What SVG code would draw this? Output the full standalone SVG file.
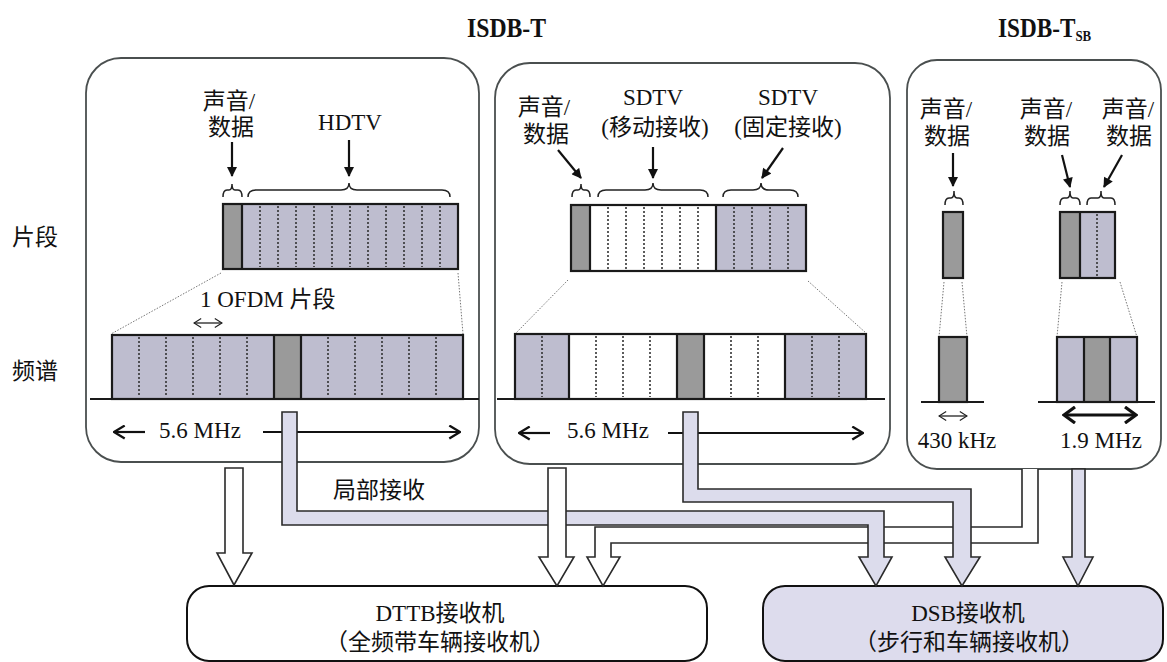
<svg xmlns="http://www.w3.org/2000/svg" width="1167" height="662" viewBox="0 0 1167 662">
<defs>
<style>
.t{font-family:'Liberation Serif','Noto Sans CJK SC',serif;font-size:23px;fill:#111}
.c{font-family:'Noto Sans CJK SC','Liberation Serif',sans-serif;font-size:23px;fill:#111}
.tt{font-family:'Liberation Serif',serif;font-weight:bold;fill:#111}
.panel{fill:#fff;stroke:#4a4f4f;stroke-width:1.8}
.seg{stroke:#1a1a1a;stroke-width:2.2}
.dk{fill:#9a9a9a}
.lv{fill:#bebdcf}
.wh{fill:#fff}
.dot{stroke:#333;stroke-width:1.6;stroke-dasharray:2 2;fill:none}
.proj{stroke:#777;stroke-width:1;stroke-dasharray:1.5 1.5;fill:none}
.base{stroke:#1a1a1a;stroke-width:2}
.brace{fill:none;stroke:#222;stroke-width:1.5}
.la{stroke:#111;stroke-width:2.2;fill:none;marker-end:url(#ah)}
.band{fill:#dcdcec;stroke:#2a2a2a;stroke-width:1.6}
.hol{fill:#fff;stroke:#2a2a2a;stroke-width:1.6}
.box{stroke:#111;stroke-width:2}
</style>
<marker id="ah" viewBox="0 0 10 10" refX="9" refY="5" markerWidth="11" markerHeight="10" markerUnits="userSpaceOnUse" orient="auto"><path d="M0,0 L10,5 L0,10 Z" fill="#111"/></marker>
<marker id="oh" viewBox="0 0 12 14" refX="11" refY="7" markerWidth="13" markerHeight="15" markerUnits="userSpaceOnUse" orient="auto-start-reverse"><path d="M1,1 L11,7 L1,13" fill="none" stroke="#111" stroke-width="2.2"/></marker>
<marker id="sh" viewBox="0 0 10 12" refX="9" refY="6" markerWidth="9" markerHeight="11" markerUnits="userSpaceOnUse" orient="auto-start-reverse"><path d="M1,1 L9,6 L1,11" fill="none" stroke="#222" stroke-width="1.3"/></marker>
<marker id="bh" viewBox="0 0 14 18" refX="12" refY="9" markerWidth="14" markerHeight="18" markerUnits="userSpaceOnUse" orient="auto-start-reverse"><path d="M1,1 L12,9 L1,17" fill="none" stroke="#111" stroke-width="3.2"/></marker>
</defs>
<rect width="1167" height="662" fill="#fff"/>

<g id="titles">
<text class="tt" x="467" y="37" font-size="27" textLength="79" lengthAdjust="spacingAndGlyphs">ISDB-T</text>
<text class="tt" transform="translate(998,37) scale(0.86,1)" font-size="27">ISDB-T<tspan font-size="15" dy="4">SB</tspan></text>
</g>

<g id="row-labels">
<text class="c" x="12" y="245">片段</text>
<text class="c" x="12" y="379">频谱</text>
</g>

<g id="panel-left">
<rect class="panel" x="86" y="58" width="393" height="404" rx="35"/>
<text class="t" x="229" y="109" text-anchor="middle">声音/</text>
<text class="t" x="231" y="135" text-anchor="middle">数据</text>
<text class="t" x="350" y="130" text-anchor="middle">HDTV</text>
<line class="la" x1="232" y1="142" x2="232" y2="176"/>
<line class="la" x1="349" y1="140" x2="349" y2="176"/>
<path class="brace" d="M223,197 Q223,190 227,190 L229,190 Q232,190 232,184 Q232,190 235,190 L238,190 Q242,190 242,197"/>
<path class="brace" d="M248,197 Q248,190 256,190 L341,190 Q349,190 349,183 Q349,190 357,190 L442,190 Q450,190 450,197"/>
<rect class="lv" x="242" y="204" width="216" height="65"/>
<rect class="dk" x="223" y="204" width="19" height="65"/>
<path class="dot" d="M260,206V267M278,206V267M296,206V267M314,206V267M332,206V267M350,206V267M368,206V267M386,206V267M404,206V267M422,206V267M440,206V267"/>
<rect class="seg" x="223" y="204" width="235" height="65" fill="none"/>
<line class="seg" x1="242" y1="204" x2="242" y2="269"/>
<path class="proj" d="M221,273 L111,334 M458,273 L463,334"/>
<text class="t" x="200" y="307">1 OFDM 片段</text>
<line x1="194" y1="323" x2="222" y2="323" stroke="#222" stroke-width="1.3" marker-start="url(#sh)" marker-end="url(#sh)"/>
<rect class="lv" x="112" y="335" width="351" height="64"/>
<rect class="dk" x="274" y="335" width="27" height="64"/>
<path class="dot" d="M139,337V397M166,337V397M193,337V397M220,337V397M247,337V397M328,337V397M355,337V397M382,337V397M409,337V397M436,337V397"/>
<rect class="seg" x="112" y="335" width="351" height="64" fill="none"/>
<path class="seg" d="M274,335V399M301,335V399" fill="none"/>
<line class="base" x1="90" y1="399" x2="479" y2="399"/>
<line x1="145" y1="432" x2="114" y2="432" stroke="#111" stroke-width="2.2" marker-end="url(#oh)"/>
<text class="t" x="200" y="438" text-anchor="middle">5.6 MHz</text>
<line x1="263" y1="432" x2="460" y2="432" stroke="#111" stroke-width="2.2" marker-end="url(#oh)"/>
</g>

<g id="panel-middle">
<rect class="panel" x="495" y="63" width="395" height="401" rx="35"/>
<text class="t" x="544" y="115" text-anchor="middle">声音/</text>
<text class="t" x="546" y="142" text-anchor="middle">数据</text>
<text class="t" x="653" y="105" text-anchor="middle">SDTV</text>
<text class="t" x="655" y="135" text-anchor="middle">(移动接收)</text>
<text class="t" x="788" y="105" text-anchor="middle">SDTV</text>
<text class="t" x="788" y="135" text-anchor="middle">(固定接收)</text>
<line class="la" x1="558" y1="150" x2="581" y2="178"/>
<line class="la" x1="653" y1="147" x2="653" y2="178"/>
<line class="la" x1="783" y1="148" x2="762" y2="178"/>
<path class="brace" d="M572,197 Q572,190 576,190 L578,190 Q581,190 581,184 Q581,190 584,190 L586,190 Q590,190 590,197"/>
<path class="brace" d="M598,197 Q598,190 606,190 L645,190 Q653,190 653,183 Q653,190 661,190 L700,190 Q708,190 708,197"/>
<path class="brace" d="M723,197 Q723,190 731,190 L753,190 Q761,190 761,183 Q761,190 769,190 L790,190 Q798,190 798,197"/>
<rect class="dk" x="571" y="205" width="19" height="66"/>
<rect class="wh" x="590" y="205" width="126" height="66"/>
<rect class="lv" x="716" y="205" width="90" height="66"/>
<path class="dot" d="M608,207V269M626,207V269M644,207V269M662,207V269M680,207V269M698,207V269M734,207V269M752,207V269M770,207V269M788,207V269"/>
<rect class="seg" x="571" y="205" width="235" height="66" fill="none"/>
<path class="seg" d="M590,205V271M716,205V271" fill="none"/>
<path class="proj" d="M568,280 L516,333 M808,281 L866,333"/>
<rect class="lv" x="515" y="334" width="54" height="65"/>
<rect class="wh" x="569" y="334" width="108" height="65"/>
<rect class="dk" x="677" y="334" width="27" height="65"/>
<rect class="wh" x="704" y="334" width="81" height="65"/>
<rect class="lv" x="785" y="334" width="81" height="65"/>
<path class="dot" d="M542,336V397M596,336V397M623,336V397M650,336V397M731,336V397M758,336V397M812,336V397M839,336V397"/>
<rect class="seg" x="515" y="334" width="351" height="65" fill="none"/>
<path class="seg" d="M569,334V399M677,334V399M704,334V399M785,334V399" fill="none"/>
<line class="base" x1="497" y1="399" x2="885" y2="399"/>
<line x1="550" y1="433" x2="519" y2="433" stroke="#111" stroke-width="2.2" marker-end="url(#oh)"/>
<text class="t" x="608" y="438" text-anchor="middle">5.6 MHz</text>
<line x1="668" y1="433" x2="863" y2="433" stroke="#111" stroke-width="2.2" marker-end="url(#oh)"/>
</g>

<g id="panel-right">
<rect class="panel" x="907" y="60" width="254" height="409" rx="30"/>
<text class="t" x="946" y="117" text-anchor="middle">声音/</text>
<text class="t" x="947" y="144" text-anchor="middle">数据</text>
<text class="t" x="1046" y="117" text-anchor="middle">声音/</text>
<text class="t" x="1047" y="144" text-anchor="middle">数据</text>
<text class="t" x="1128" y="117" text-anchor="middle">声音/</text>
<text class="t" x="1129" y="144" text-anchor="middle">数据</text>
<line class="la" x1="953" y1="153" x2="953" y2="186"/>
<line class="la" x1="1062" y1="155" x2="1070" y2="187"/>
<line class="la" x1="1122" y1="155" x2="1104" y2="187"/>
<path class="brace" d="M945,205 Q945,198 949,198 L951,198 Q954,198 954,191 Q954,198 957,198 L959,198 Q963,198 963,205"/>
<path class="brace" d="M1060,205 Q1060,198 1064,198 L1067,198 Q1070,198 1070,191 Q1070,198 1073,198 L1076,198 Q1080,198 1080,205"/>
<path class="brace" d="M1087,205 Q1087,198 1091,198 L1098,198 Q1101,198 1101,191 Q1101,198 1104,198 L1111,198 Q1115,198 1115,205"/>
<rect class="dk seg" x="943" y="212" width="20" height="66"/>
<rect class="dk" x="1060" y="212" width="20" height="66"/>
<rect class="lv" x="1080" y="212" width="35" height="66"/>
<path class="dot" d="M1097,214V276"/>
<rect class="seg" x="1060" y="212" width="55" height="66" fill="none"/>
<line class="seg" x1="1080" y1="212" x2="1080" y2="278"/>
<path class="proj" d="M944,282 L939,337 M962,282 L967,337 M1062,282 L1057,337 M1120,282 L1137,337"/>
<rect class="dk seg" x="939" y="337" width="28" height="65"/>
<rect class="lv" x="1057" y="337" width="27" height="65"/>
<rect class="dk" x="1084" y="337" width="26" height="65"/>
<rect class="lv" x="1110" y="337" width="27" height="65"/>
<rect class="seg" x="1057" y="337" width="80" height="65" fill="none"/>
<path class="seg" d="M1084,337V402M1110,337V402" fill="none"/>
<line class="base" x1="921" y1="402" x2="984" y2="402"/>
<line class="base" x1="1038" y1="402" x2="1155" y2="402"/>
<line x1="939" y1="416" x2="967" y2="416" stroke="#222" stroke-width="1.3" marker-start="url(#sh)" marker-end="url(#sh)"/>
<text class="t" x="957" y="448" text-anchor="middle">430 kHz</text>
<line x1="1064" y1="415" x2="1136" y2="415" stroke="#111" stroke-width="3.2" marker-start="url(#bh)" marker-end="url(#bh)"/>
<text class="t" x="1101" y="448" text-anchor="middle">1.9 MHz</text>
</g>

<g id="receiver-dttb">
<rect class="box" x="187" y="586" width="520" height="75" rx="22" fill="#fff"/>
<text class="t" x="440" y="621" text-anchor="middle">DTTB接收机</text>
<text class="t" x="440" y="650" text-anchor="middle" font-size="21">（全频带车辆接收机）</text>
</g>

<g id="receiver-dsb">
<rect class="box" x="763" y="586" width="400" height="75" rx="22" fill="#dddced"/>
<text class="t" x="968" y="621" text-anchor="middle">DSB接收机</text>
<text class="t" x="969" y="650" text-anchor="middle" font-size="21">（步行和车辆接收机）</text>
</g>

<g id="connectors">
<path class="hol" d="M1022,469 L1022,527 L595,527 L595,557 L587,557 L603,586 L620,557 L611,557 L611,543 L1038,543 L1038,469"/>
<path class="band" d="M282,412 L297,412 L297,511 L884,511 L884,557 L892,557 L876,586 L859,557 L868,557 L868,525 L282,525 Z"/>
<path class="band" d="M683,412 L698,412 L698,489 L971,489 L971,557 L980,557 L962,586 L945,557 L953,557 L953,502 L683,502 Z"/>
<path class="hol" d="M225,468 L243,468 L243,553 L252,553 L234,585 L217,553 L225,553 Z"/>
<path class="hol" d="M548,468 L566,468 L566,557 L574,557 L557,586 L539,557 L548,557 Z"/>
<path class="band" d="M1072,469 L1085,469 L1085,557 L1093,557 L1078,586 L1063,557 L1072,557 Z"/>
<text class="c" x="333" y="498">局部接收</text>
</g>
</svg>
